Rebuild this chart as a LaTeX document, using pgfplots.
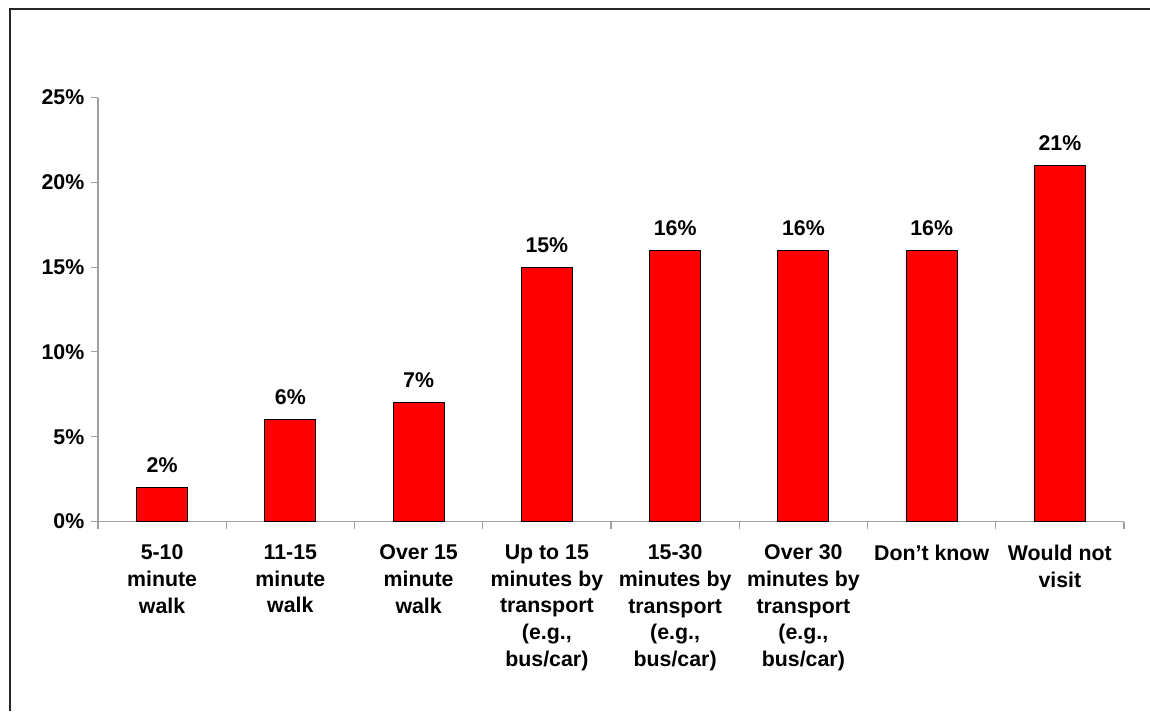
\documentclass[border=0pt]{standalone}
\usepackage{fontspec}
\setmainfont{Liberation Sans}
\usepackage{pgfplots}
\pgfplotsset{compat=1.18}
\definecolor{axisgray}{HTML}{A0A0A0}
\definecolor{barred}{HTML}{FF0000}
\begin{document}
\begin{tikzpicture}
\begin{axis}[
  at={(73.5pt,142.125pt)}, anchor=south west,
  scale only axis, width=769.5pt, height=318pt,
  xmin=-0.5, xmax=7.5, ymin=0, ymax=25,
  axis lines*=left,
  axis line style={draw=axisgray, line width=0.8pt},
  tick align=outside, tick pos=left,
  major tick length=5.25pt,
  tick style={draw=axisgray, line width=0.8pt},
  xtick={-0.5,0.5,...,7.5}, xticklabels={},
  extra x ticks={0,1,2,3,4,5,6,7},
  extra x tick style={major tick length=0pt},
  extra x tick labels={{5-10\\minute\\walk},{11-15\\minute\\walk},{Over 15\\minute\\walk},{Up to 15\\minutes by\\transport\\(e.g.,\\bus/car)},{15-30\\minutes by\\transport\\(e.g.,\\bus/car)},{Over 30\\minutes by\\transport\\(e.g.,\\bus/car)},{Don’t know},{Would not\\visit}},
  xticklabel style={align=center, anchor=north, font=\fontsize{16}{20}\selectfont\bfseries, yshift=-14pt},
  ytick={0,5,...,25},
  yticklabel={\pgfmathprintnumber{\tick}\%},
  yticklabel style={font=\fontsize{16}{19}\selectfont\bfseries, xshift=-1.5pt},
  /pgf/number format/assume math mode=true,
  ybar, bar width=38.25pt,
  nodes near coords={\pgfmathprintnumber{\pgfplotspointmeta}\%},
  nodes near coords style={font=\fontsize{16}{19}\selectfont\bfseries, anchor=base, yshift=11.25pt, inner sep=0pt},
  clip=false,
]
\addplot[fill=barred, draw=black, line width=0.75pt] coordinates {(0,2) (1,6) (2,7) (3,15) (4,16) (5,16) (6,16) (7,21)};
\end{axis}
\draw[line width=1.5pt, draw=black!85] (7.5pt,0pt) -- (7.5pt,526.5pt) -- (862.5pt,526.5pt);
\pgfresetboundingbox
\path[use as bounding box] (0,0) rectangle (862.5pt,533.25pt);
\end{tikzpicture}
\end{document}
